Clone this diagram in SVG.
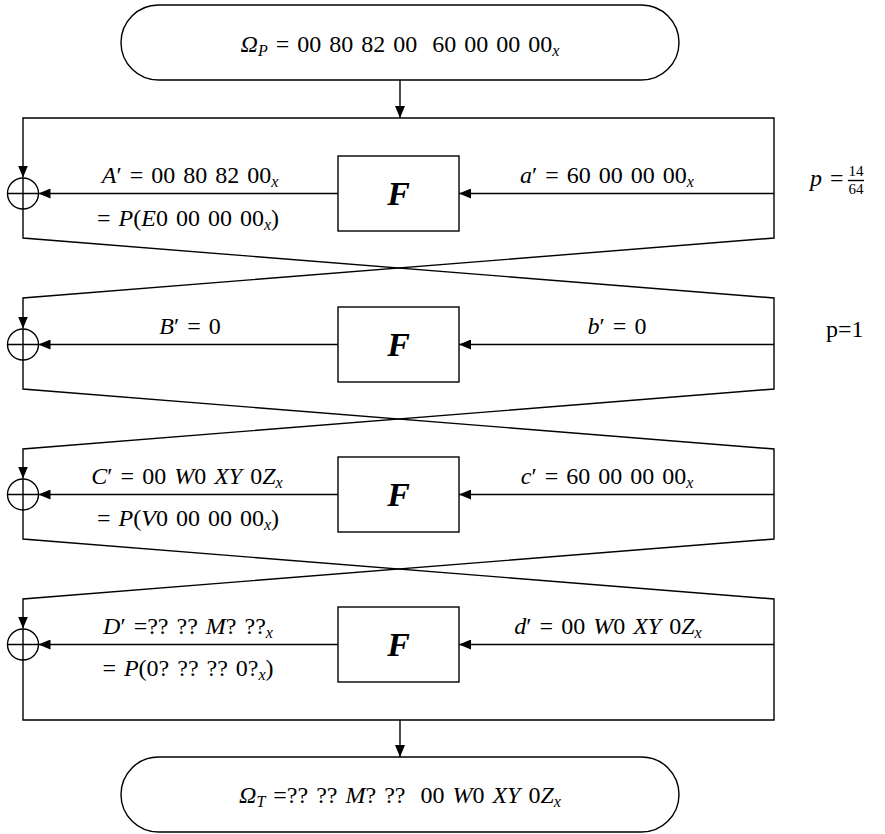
<svg xmlns="http://www.w3.org/2000/svg" width="885" height="834" viewBox="0 0 885 834">
<defs>
<style>
.ln{fill:none;stroke:#000;stroke-width:1.4}
.box{fill:#fff;stroke:#000;stroke-width:1.4}
.m{font-family:"Liberation Serif","DejaVu Serif",serif;font-size:24px;fill:#000;word-spacing:2px}
.i{font-style:italic}
.s{font-style:italic;font-size:16px}
.f{font-family:"Liberation Serif","DejaVu Serif",serif;font-size:34px;font-style:italic;font-weight:bold;fill:#000}
.fr{font-family:"Liberation Serif","DejaVu Serif",serif;font-size:15px;fill:#000}
</style>
<marker id="ah" viewBox="0 0 12 10" refX="12" refY="5" markerWidth="12" markerHeight="10" markerUnits="userSpaceOnUse" orient="auto">
<path d="M0,0 L12,5 L0,10 z" fill="#000"/>
</marker>
</defs>

<g id="connectors">
<path class="ln" d="M400 80 V118" marker-end="url(#ah)"/>
<path class="ln" d="M400 118 H23 V177.5" marker-end="url(#ah)"/>
<path class="ln" d="M400 118 H774 V238 L23 298 V328.5" marker-end="url(#ah)"/>
<path class="ln" d="M23 208.5 V238 L774 298 V389 L23 449 V478.5" marker-end="url(#ah)"/>
<path class="ln" d="M23 359.5 V389 L774 449 V539 L23 599 V628.5" marker-end="url(#ah)"/>
<path class="ln" d="M23 509.5 V539 L774 599 V720 H400"/>
<path class="ln" d="M23 659.5 V720 H400"/>
<path class="ln" d="M400 720 V757" marker-end="url(#ah)"/>
<path class="ln" d="M774 193.5 H459" marker-end="url(#ah)"/>
<path class="ln" d="M774 344.5 H459" marker-end="url(#ah)"/>
<path class="ln" d="M774 494.5 H459" marker-end="url(#ah)"/>
<path class="ln" d="M774 644.5 H459" marker-end="url(#ah)"/>
<path class="ln" d="M338 193.5 H38.5" marker-end="url(#ah)"/>
<path class="ln" d="M338 344.5 H38.5" marker-end="url(#ah)"/>
<path class="ln" d="M338 494.5 H38.5" marker-end="url(#ah)"/>
<path class="ln" d="M338 644.5 H38.5" marker-end="url(#ah)"/>
</g>

<g id="start">
<rect class="box" x="121" y="5" width="558" height="75" rx="37.5"/>
<text class="m" x="400" y="52" text-anchor="middle"><tspan class="i">Ω</tspan><tspan class="s" dy="4">P</tspan><tspan dy="-4"> = 00 80 82 00 </tspan><tspan dx="7">60 00 00 00</tspan><tspan class="s" dy="4">x</tspan></text>
</g>

<g id="end">
<rect class="box" x="121" y="757" width="558" height="75" rx="37.5"/>
<text class="m" x="400" y="803" text-anchor="middle"><tspan class="i">Ω</tspan><tspan class="s" dy="4">T</tspan><tspan dy="-4"> =?? ?? </tspan><tspan class="i">M</tspan>? ?? <tspan dx="7">00 </tspan><tspan class="i">W</tspan>0 <tspan class="i">XY</tspan> 0<tspan class="i">Z</tspan><tspan class="s" dy="4">x</tspan></text>
</g>

<g id="F1">
<rect class="box" x="338" y="156" width="121" height="75"/>
<text class="f" x="398.5" y="205" text-anchor="middle">F</text>
</g>
<g id="F2">
<rect class="box" x="338" y="307" width="121" height="75"/>
<text class="f" x="398.5" y="356" text-anchor="middle">F</text>
</g>
<g id="F3">
<rect class="box" x="338" y="457" width="121" height="75"/>
<text class="f" x="398.5" y="506" text-anchor="middle">F</text>
</g>
<g id="F4">
<rect class="box" x="338" y="607" width="121" height="75"/>
<text class="f" x="398.5" y="656" text-anchor="middle">F</text>
</g>

<g id="xor1"><circle class="ln" cx="23" cy="193.5" r="15.5"/><path class="ln" d="M7.5 193.5 H38.5 M23 178 V209"/></g>
<g id="xor2"><circle class="ln" cx="23" cy="344.5" r="15.5"/><path class="ln" d="M7.5 344.5 H38.5 M23 329 V360"/></g>
<g id="xor3"><circle class="ln" cx="23" cy="494.5" r="15.5"/><path class="ln" d="M7.5 494.5 H38.5 M23 479 V510"/></g>
<g id="xor4"><circle class="ln" cx="23" cy="644.5" r="15.5"/><path class="ln" d="M7.5 644.5 H38.5 M23 629 V660"/></g>

<g id="labels">
<text class="m" x="190" y="183" text-anchor="middle"><tspan class="i">A</tspan>′ = 00 80 82 00<tspan class="s" dy="4">x</tspan></text>
<text class="m" x="188" y="226" text-anchor="middle">= <tspan class="i">P</tspan>(<tspan class="i">E</tspan>0 00 00 00<tspan class="s" dy="4">x</tspan><tspan dy="-4">)</tspan></text>
<text class="m" x="607" y="183" text-anchor="middle"><tspan class="i">a</tspan>′ = 60 00 00 00<tspan class="s" dy="4">x</tspan></text>
<text class="m" x="810" y="186"><tspan class="i">p</tspan> =</text>
<text class="fr" x="856" y="176" text-anchor="middle">14</text>
<path class="ln" d="M848 180.5 H864" stroke-width="0.8"/>
<text class="fr" x="856" y="194" text-anchor="middle">64</text>

<text class="m" x="190" y="334" text-anchor="middle"><tspan class="i">B</tspan>′ = 0</text>
<text class="m" x="617" y="334" text-anchor="middle"><tspan class="i">b</tspan>′ = 0</text>
<text class="m" x="826" y="337">p=1</text>

<text class="m" x="187" y="484" text-anchor="middle"><tspan class="i">C</tspan>′ = 00 <tspan class="i">W</tspan>0 <tspan class="i">XY</tspan> 0<tspan class="i">Z</tspan><tspan class="s" dy="4">x</tspan></text>
<text class="m" x="188" y="526" text-anchor="middle">= <tspan class="i">P</tspan>(<tspan class="i">V</tspan>0 00 00 00<tspan class="s" dy="4">x</tspan><tspan dy="-4">)</tspan></text>
<text class="m" x="607" y="484" text-anchor="middle"><tspan class="i">c</tspan>′ = 60 00 00 00<tspan class="s" dy="4">x</tspan></text>

<text class="m" x="188" y="634" text-anchor="middle"><tspan class="i">D</tspan>′ =?? ?? <tspan class="i">M</tspan>? ??<tspan class="s" dy="4">x</tspan></text>
<text class="m" x="188" y="676" text-anchor="middle">= <tspan class="i">P</tspan>(0? ?? ?? 0?<tspan class="s" dy="4">x</tspan><tspan dy="-4">)</tspan></text>
<text class="m" x="608" y="634" text-anchor="middle"><tspan class="i">d</tspan>′ = 00 <tspan class="i">W</tspan>0 <tspan class="i">XY</tspan> 0<tspan class="i">Z</tspan><tspan class="s" dy="4">x</tspan></text>
</g>
</svg>
